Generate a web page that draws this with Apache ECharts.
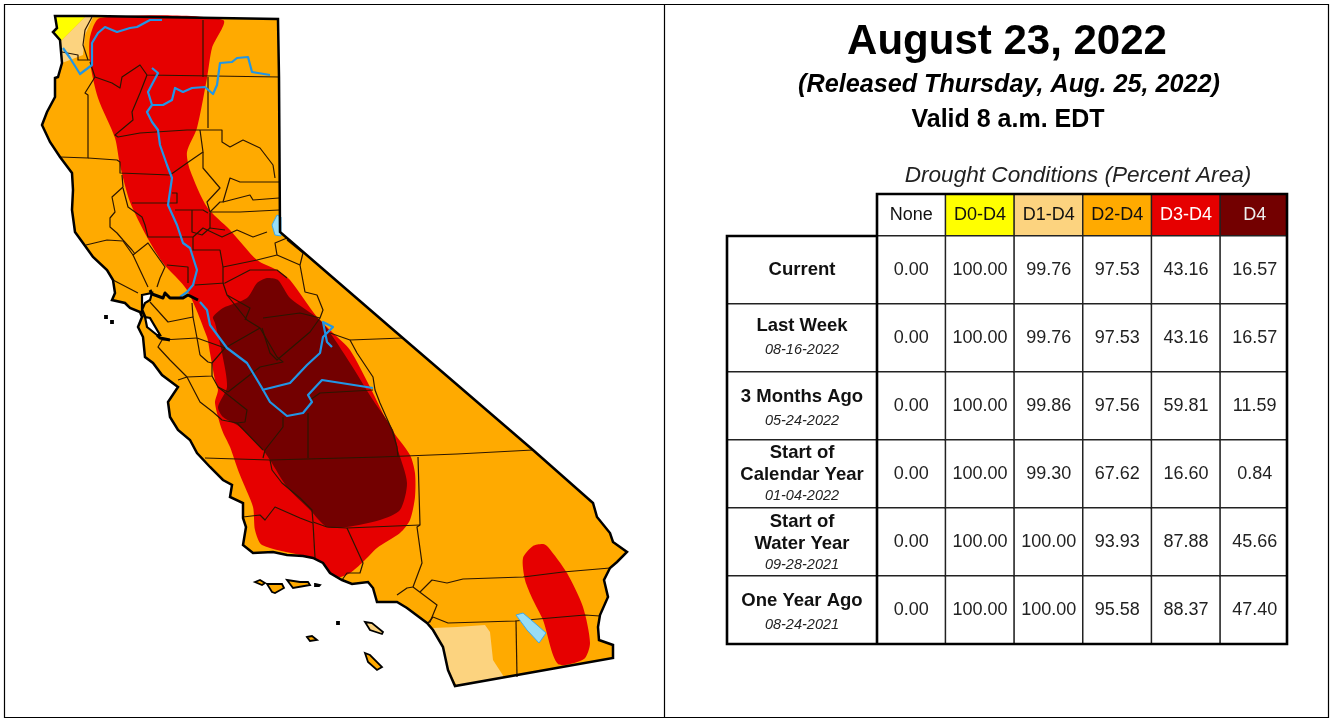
<!DOCTYPE html>
<html>
<head>
<meta charset="utf-8">
<style>
html, body { margin: 0; padding: 0; background: #fff; }
#main { width: 1332px; height: 721px; }
</style>
<script src="https://cdn.jsdelivr.net/npm/echarts@6/dist/echarts.min.js"></script>
</head>
<body>
<div id="main"></div>
<script>
// table values
var levels = ['None', 'D0-D4', 'D1-D4', 'D2-D4', 'D3-D4', 'D4'];
var levelColors = ['#FFFFFF', '#FFFF00', '#FCD37F', '#FFAA00', '#E60000', '#730000'];
var levelText = ['#111', '#111', '#111', '#111', '#fff', '#eee'];
var periods = ['Current', 'Last Week', '3 Months Ago', 'Start of\nCalendar Year', 'Start of\nWater Year', 'One Year Ago'];
var periodDates = ['', '08-16-2022', '05-24-2022', '01-04-2022', '09-28-2021', '08-24-2021'];
var none = [0, 0, 0, 0, 0, 0];
var d0d4 = [100, 100, 100, 100, 100, 100];
var d1d4 = [99.76, 99.76, 99.86, 99.3, 100, 100];
var d2d4 = [97.53, 97.53, 97.56, 67.62, 93.93, 95.58];
var d3d4 = [43.16, 43.16, 59.81, 16.6, 87.88, 88.37];
var d4 = [16.57, 16.57, 11.59, 0.84, 45.66, 47.4];
var tableColumns = [none, d0d4, d1d4, d2d4, d3d4, d4];

// map, in map units
var stateOutline = [[55,16],[93,16],[278,19],[279,77],[280,232],[287,238],[390,327],[533,450],[593,503],[597,517],[610,533],[613,542],[627,552],[617,562],[610,568],[604,580],[608,597],[600,615],[598,627],[599,640],[613,645],[613,658],[455,686],[448,670],[443,647],[433,630],[427,623],[407,608],[397,602],[383,602],[377,602],[373,588],[368,582],[352,584],[342,580],[330,573],[323,563],[313,558],[303,556],[287,555],[273,552],[253,553],[243,545],[246,527],[243,518],[243,503],[230,497],[232,485],[223,480],[210,467],[197,453],[190,440],[178,430],[170,417],[168,402],[178,387],[162,375],[153,363],[145,357],[143,337],[138,327],[142,317],[140,312],[130,308],[125,303],[112,300],[115,293],[113,280],[107,270],[93,257],[83,243],[75,232],[72,210],[73,190],[72,173],[60,157],[50,142],[42,125],[47,112],[55,97],[55,78],[58,77],[62,63],[60,40],[53,32],[57,28]];
var d0Area = [[55,16],[85,17],[60,42],[53,32],[57,28]];
var d1North = [[85,17],[93,17],[85,35],[83,55],[62,63],[60,42]];
var d1South = [[433,628],[457,627],[485,625],[490,632],[493,660],[504,677],[457,686],[448,670],[443,647]];
var d3Central = [[100,18],[90,37],[90,62],[98,98],[115,138],[120,165],[130,202],[147,237],[163,263],[187,290],[207,337],[210,353],[215,380],[218,390],[215,403],[222,430],[230,447],[238,470],[242,480],[253,507],[255,530],[262,545],[300,555],[313,558],[323,563],[330,573],[340,577],[350,573],[363,562],[377,548],[400,533],[410,520],[415,497],[415,473],[410,455],[390,427],[370,387],[350,350],[333,333],[317,317],[290,280],[277,270],[257,260],[230,230],[207,207],[190,170],[187,152],[197,128],[207,78],[212,48],[223,20]];
var d3South = [[543,544],[533,546],[523,558],[525,580],[533,600],[543,620],[558,664],[584,659],[590,643],[583,607],[567,573],[548,547]];
var d4Area = [[213,317],[223,308],[247,298],[257,283],[267,278],[278,280],[290,298],[320,320],[333,337],[350,363],[373,400],[393,430],[398,450],[407,483],[400,510],[380,520],[347,527],[327,527],[310,510],[287,487],[270,460],[263,450],[240,427],[223,417],[218,407],[227,387],[222,353],[215,323]];
var lakes = [
    [[516,615],[523,613],[537,625],[546,633],[539,643],[527,630]],
    [[272,225],[277,215],[281,217],[281,236],[275,235]]
];
var islands = [
    [[255,582],[260,580],[265,583],[262,585]],
    [[267,584],[282,584],[284,588],[275,593],[272,592]],
    [[287,580],[300,582],[308,582],[310,585],[293,588]],
    [[315,584],[320,585],[319,586],[315,586]],
    [[337,622],[339,622],[339,624],[337,624]],
    [[307,637],[312,636],[317,640],[310,641]],
    [[365,653],[370,655],[382,667],[377,670],[368,662]],
    [[105,316],[107,316],[107,318],[105,318]],
    [[111,321],[113,321],[113,323],[111,323]]
];
var catalina = [[365,622],[372,623],[383,632],[382,634],[370,630]];
var bayWater = [
    [[142,295],[152,293],[150,300],[145,303],[142,310]],
    [[145,317],[150,318],[160,335],[157,335],[147,327]]
];
var bayShore = [
    [[150,290],[152,294],[163,298],[165,293],[170,298],[183,298],[188,295],[198,300]],
    [[142,310],[145,317]],
    [[157,335],[160,338],[170,340]]
];
var countyLines = [
    [[92,17],[85,30],[83,45],[88,60]],
    [[62,52],[78,55],[78,60],[90,60]],
    [[203,20],[203,77]],
    [[90,62],[95,77],[112,83],[120,88],[122,77],[140,65],[147,75],[280,77]],
    [[147,75],[140,93],[132,112],[133,120],[115,135],[118,137],[140,133],[187,130],[222,130],[222,142],[230,147],[243,140],[260,148],[273,165],[275,178]],
    [[208,77],[208,128]],
    [[95,77],[85,93],[88,95],[88,158],[60,157]],
    [[88,158],[117,160],[120,162],[120,173],[170,175],[187,163],[203,152],[200,130]],
    [[203,152],[203,168],[220,188],[207,202],[210,212],[220,202],[223,202],[230,178],[240,182],[275,182],[279,182]],
    [[223,202],[250,195],[253,200],[279,198]],
    [[210,212],[240,212],[279,210]],
    [[132,203],[177,203],[177,193],[172,193]],
    [[175,210],[203,210],[208,213]],
    [[192,210],[192,232],[202,235],[210,228],[225,230]],
    [[210,213],[210,228]],
    [[122,175],[123,187],[112,197],[115,212],[110,218],[110,227],[117,233],[123,240],[132,250],[135,254]],
    [[123,188],[128,207],[142,217],[145,225],[148,237],[193,237]],
    [[86,245],[107,240],[123,241],[133,255],[148,243],[160,260],[165,267],[160,278],[157,287]],
    [[133,255],[140,270],[148,287]],
    [[113,280],[138,293]],
    [[167,265],[188,267],[188,283]],
    [[193,237],[203,228],[222,237],[237,230],[253,237],[267,232]],
    [[193,237],[193,250],[220,250],[223,267],[223,283],[227,295],[247,320],[260,328],[277,357],[283,362],[260,367],[228,392]],
    [[195,285],[225,283],[250,270],[277,270],[287,278]],
    [[223,267],[257,260],[277,255],[275,243],[287,238]],
    [[227,295],[250,308],[245,320]],
    [[263,318],[300,313],[320,318],[323,310],[317,295],[305,292],[300,265],[303,253],[287,240]],
    [[277,255],[300,265]],
    [[260,328],[225,348],[197,338],[193,317],[168,322],[150,302]],
    [[193,317],[192,303]],
    [[262,328],[270,353],[277,360],[310,332],[320,318]],
    [[197,338],[162,340],[158,347],[170,360],[187,377],[212,376],[212,363],[225,348]],
    [[200,355],[197,338]],
    [[200,355],[208,362],[212,363]],
    [[212,376],[218,387],[247,410],[245,422],[237,423],[263,450]],
    [[228,392],[218,387]],
    [[283,417],[283,427],[265,450],[263,458]],
    [[308,413],[308,458]],
    [[310,400],[320,393],[338,392],[373,390]],
    [[350,340],[403,338]],
    [[350,340],[357,353],[373,377],[375,390],[380,403],[392,430],[397,447],[398,457]],
    [[350,340],[330,333]],
    [[187,377],[200,402],[213,412],[222,420],[237,423]],
    [[187,377],[178,380]],
    [[205,458],[270,460],[380,457],[457,454],[533,450]],
    [[270,460],[272,470],[282,483],[300,498],[312,510],[313,522],[327,527],[347,528],[420,525]],
    [[243,517],[260,515],[265,520],[275,507],[300,518],[313,523]],
    [[313,523],[315,558]],
    [[347,528],[363,563],[360,573],[347,573],[342,580]],
    [[418,457],[420,525],[417,527],[422,563],[413,587]],
    [[413,587],[437,605],[430,622],[427,623]],
    [[397,595],[407,588],[413,587]],
    [[420,592],[432,580],[447,583],[463,579],[523,577],[563,572],[610,568]],
    [[433,617],[448,623],[515,621],[585,615],[600,616]],
    [[433,617],[428,623]],
    [[516,621],[517,677]]
];
var rivers = [
    [[162,20],[150,20],[137,27],[130,28],[117,32],[105,27],[98,33],[92,43],[92,65],[80,74],[70,58],[63,48]],
    [[152,68],[158,73],[148,92],[152,105],[147,112],[152,122],[158,130],[160,145],[167,165],[172,178],[168,205],[177,225],[183,243],[190,248],[197,270],[193,285],[187,292],[180,297]],
    [[270,75],[252,72],[248,57],[237,58],[232,62],[220,63],[217,85],[213,94],[205,87],[192,88],[183,92],[175,88],[172,100],[163,105],[152,105]],
    [[200,302],[207,310],[210,325],[227,348],[247,363],[262,388],[270,402],[287,416],[303,413],[312,402],[308,395],[322,380],[373,388]],
    [[262,390],[290,383],[307,365],[320,353],[323,337],[333,327],[323,322],[327,342],[332,347]]
];

var myChart = echarts.init(document.getElementById('main'));
var fontName = '"Liberation Sans", Arial, sans-serif';

function polygonSeries(list, fill, stroke, lineWidth, smooth, z) {
    return {
        type: 'custom',
        xAxisIndex: 0,
        yAxisIndex: 0,
        coordinateSystem: 'cartesian2d',
        silent: true,
        clip: true,
        z: z,
        data: list.map(function (p, i) { return [p[0][0], p[0][1], i]; }),
        renderItem: function (params, api) {
            return {
                type: 'polygon',
                shape: {
                    points: list[params.dataIndex].map(function (pt) { return api.coord(pt); }),
                    smooth: smooth
                },
                style: { fill: fill, stroke: stroke, lineWidth: lineWidth }
            };
        }
    };
}

function lineSeries(list, color, lineWidth, z) {
    return {
        type: 'custom',
        xAxisIndex: 0,
        yAxisIndex: 0,
        coordinateSystem: 'cartesian2d',
        silent: true,
        clip: true,
        z: z,
        data: list.map(function (p, i) { return [p[0][0], p[0][1], i]; }),
        renderItem: function (params, api) {
            return {
                type: 'polyline',
                shape: { points: list[params.dataIndex].map(function (pt) { return api.coord(pt); }) },
                style: { fill: null, stroke: color, lineWidth: lineWidth, lineJoin: 'round' }
            };
        }
    };
}

var headerData = levels.map(function (name, i) {
    return {
        value: [i, 0, i],
        itemStyle: { color: levelColors[i] },
        label: { color: levelText[i] }
    };
});

var bodyData = [];
tableColumns.forEach(function (col, c) {
    col.forEach(function (v, r) {
        bodyData.push([c, r, v]);
    });
});

// small vertical nudge of the row titles, the source is not quite regular
var rowNudge = [0, 0, 3, 0, 1, 3];
var rowData = periods.map(function (name, i) {
    return { value: [0, i, i], label: { offset: [0, rowNudge[i]] } };
});

function cellStyle() {
    return { color: '#fff', borderColor: '#222', borderWidth: 1.5 };
}

var option = {
    animation: false,
    backgroundColor: '#fff',
    title: [
        { text: 'August 23, 2022', left: 1002, top: 37, textAlign: 'center', textVerticalAlign: 'middle',
          textStyle: { fontFamily: fontName, fontSize: 42, fontWeight: 'bold', color: '#000' } },
        { text: '(Released Thursday, Aug. 25, 2022)', left: 1004, top: 80, textAlign: 'center', textVerticalAlign: 'middle',
          textStyle: { fontFamily: fontName, fontSize: 25.2, fontWeight: 'bold', fontStyle: 'italic', color: '#000' } },
        { text: 'Valid 8 a.m. EDT', left: 1003, top: 115, textAlign: 'center', textVerticalAlign: 'middle',
          textStyle: { fontFamily: fontName, fontSize: 25, fontWeight: 'bold', color: '#000' } },
        { text: 'Drought Conditions (Percent Area)', left: 1073, top: 171, textAlign: 'center', textVerticalAlign: 'middle',
          textStyle: { fontFamily: fontName, fontSize: 22.6, fontWeight: 'normal', fontStyle: 'italic', color: '#222' } }
    ],
    grid: [
        { left: 0, top: 0, width: 1332, height: 721 },
        { left: 877, top: 194, width: 412, height: 42 },
        { left: 877, top: 236, width: 412, height: 408 },
        { left: 727, top: 236, width: 150, height: 408 }
    ],
    xAxis: [
        { type: 'value', gridIndex: 0, min: 0, max: 1332, show: false },
        { type: 'category', gridIndex: 1, data: levels, show: false },
        { type: 'category', gridIndex: 2, data: levels, show: false },
        { type: 'category', gridIndex: 3, data: ['Period'], show: false }
    ],
    yAxis: [
        { type: 'value', gridIndex: 0, min: 0, max: 721, inverse: true, show: false },
        { type: 'category', gridIndex: 1, data: ['Level'], show: false },
        { type: 'category', gridIndex: 2, data: periods, inverse: true, show: false },
        { type: 'category', gridIndex: 3, data: periods, inverse: true, show: false }
    ],
    graphic: [
        // the last table column is a little narrower than the others
        { type: 'rect', z: 99, silent: true, shape: { x: 1288, y: 190, width: 4, height: 458 }, style: { fill: '#fff' } },
        { type: 'rect', z: 100, silent: true, shape: { x: 4.5, y: 4.5, width: 1324, height: 713 }, style: { fill: null, stroke: '#000', lineWidth: 1.2 } },
        { type: 'line', z: 100, silent: true, shape: { x1: 664.5, y1: 4, x2: 664.5, y2: 717 }, style: { stroke: '#000', lineWidth: 1.2 } },
        { type: 'polyline', z: 100, silent: true, shape: { points: [[877, 236], [877, 194], [1287, 194], [1287, 644], [727, 644], [727, 236], [877, 236], [877, 644]] },
          style: { fill: null, stroke: '#000', lineWidth: 2.6 } }
    ],
    series: [
        polygonSeries([stateOutline], '#FFAA00', null, 0, 0, 1),
        polygonSeries([d0Area], '#FFFF00', null, 0, 0, 2),
        polygonSeries([d1North, d1South], '#FCD37F', null, 0, 0, 2),
        polygonSeries([d3Central, d3South], '#E60000', null, 0, 0.25, 3),
        polygonSeries([d4Area], '#730000', null, 0, 0.25, 4),
        lineSeries(countyLines, '#2b1600', 1.2, 5),
        polygonSeries(lakes, '#99DDF5', '#3FA9E8', 1, 0, 6),
        lineSeries(rivers, '#2196E6', 2.2, 7),
        polygonSeries([stateOutline], null, '#000', 2.5, 0, 8),
        polygonSeries(islands, '#FFAA00', '#000', 1.8, 0, 8),
        polygonSeries([catalina], '#FCD37F', '#000', 1.8, 0, 8),
        polygonSeries(bayWater, '#fff', '#000', 2.2, 0, 8),
        lineSeries(bayShore, '#000', 3, 8),
        {
            type: 'heatmap',
            xAxisIndex: 1,
            yAxisIndex: 1,
            silent: true,
            z: 3,
            data: headerData,
            itemStyle: { borderColor: '#222', borderWidth: 1.5 },
            label: {
                show: true,
                fontFamily: fontName,
                fontSize: 18,
                formatter: function (p) { return levels[p.value[2]]; }
            }
        },
        {
            type: 'heatmap',
            xAxisIndex: 2,
            yAxisIndex: 2,
            silent: true,
            z: 3,
            data: bodyData,
            itemStyle: cellStyle(),
            label: {
                show: true,
                fontFamily: fontName,
                fontSize: 18,
                color: '#222',
                formatter: function (p) { return p.value[2].toFixed(2); }
            }
        },
        {
            type: 'heatmap',
            xAxisIndex: 3,
            yAxisIndex: 3,
            silent: true,
            z: 3,
            data: rowData,
            itemStyle: cellStyle(),
            label: {
                show: true,
                fontFamily: fontName,
                formatter: function (p) {
                    var i = p.value[2];
                    var names = periods[i].split('\n');
                    var two = names.length === 1;
                    var lines = names.map(function (t) { return (two ? '{n2|' : '{n|') + t + '}'; });
                    if (periodDates[i]) lines.push((two ? '{d2|' : '{d|') + periodDates[i] + '}');
                    return lines.join('\n');
                },
                rich: {
                    n: { fontFamily: fontName, fontSize: 18.5, fontWeight: 'bold', color: '#111', lineHeight: 22 },
                    d: { fontFamily: fontName, fontSize: 14.5, fontStyle: 'italic', color: '#222', lineHeight: 20 },
                    n2: { fontFamily: fontName, fontSize: 18.5, fontWeight: 'bold', color: '#111', lineHeight: 24 },
                    d2: { fontFamily: fontName, fontSize: 14.5, fontStyle: 'italic', color: '#222', lineHeight: 24 }
                }
            }
        }
    ]
};

option && myChart.setOption(option);
window.onresize = function () {
    myChart.resize();
};
</script>
</body>
</html>
